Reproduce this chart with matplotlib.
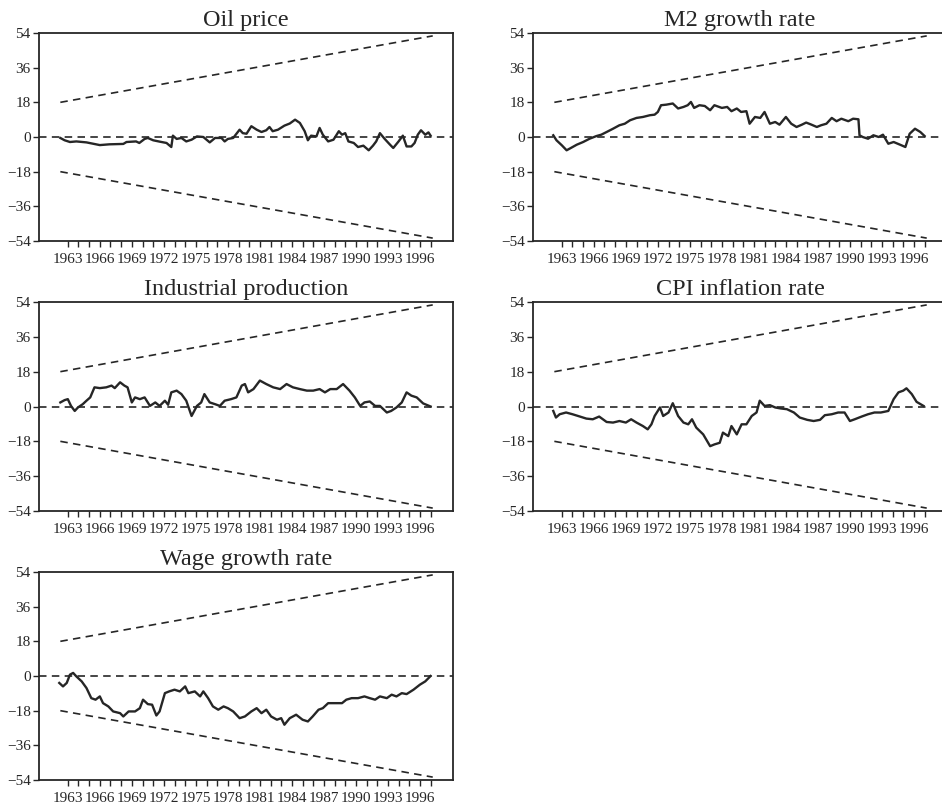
import matplotlib
matplotlib.use("Agg")
import matplotlib.pyplot as plt

plt.rcParams['font.family'] = ['Liberation Serif', 'DejaVu Serif']

titles = ["Oil price", "M2 growth rate", "Industrial production",
          "CPI inflation rate", "Wage growth rate"]

# ---- series (year, value) ----
oil_years = [1962.3, 1962.7, 1963.2, 1963.8, 1964.75, 1966.0, 1966.9, 1968.2, 1968.5,
             1969.4, 1969.7, 1970.2, 1970.5, 1971.0, 1971.6, 1972.25, 1972.7, 1972.85,
             1973.2, 1973.65, 1974.1, 1974.6, 1975.1, 1975.7, 1976.3, 1976.8, 1977.4,
             1977.7, 1978.0, 1978.5, 1979.1, 1979.4, 1979.75, 1980.2, 1980.7, 1981.15,
             1981.6, 1981.9, 1982.2, 1982.7, 1983.3, 1983.8, 1984.3, 1984.75, 1985.2,
             1985.5, 1985.8, 1986.3, 1986.6, 1986.9, 1987.4, 1987.9, 1988.4, 1988.7,
             1989.0, 1989.3, 1989.8, 1990.2, 1990.7, 1991.2, 1991.6, 1991.9, 1992.25,
             1992.7, 1993.2, 1993.5, 1994.0, 1994.4, 1994.75, 1995.2, 1995.5, 1995.8,
             1996.1, 1996.5, 1996.8, 1997.0]
oil_vals = [-0.5, -1.7, -2.6, -2.3, -2.8, -4.2, -3.8, -3.6, -2.6, -2.3, -3.1, -1.0,
            -0.5, -1.7, -2.4, -3.1, -5.2, 0.7, -1.0, -0.5, -2.3, -1.4, 0.3, 0.0,
            -2.8, -0.5, -0.5, -2.3, -1.0, -0.5, 3.8, 2.0, 1.7, 5.6, 3.8, 2.6, 3.5,
            5.2, 3.0, 3.8, 5.9, 7.0, 9.0, 7.3, 3.0, -1.7, 0.7, 0.3, 4.7, 1.2, -2.3,
            -1.4, 3.0, 1.2, 2.0, -2.3, -3.1, -5.2, -4.5, -6.9, -4.5, -2.3, 2.0, -1.0,
            -4.0, -5.7, -2.3, 0.7, -4.9, -4.9, -3.1, 1.2, 3.5, 1.2, 2.4, 0.7]

m2_years = [1962.2, 1962.5, 1963.0, 1963.45, 1963.75, 1964.4, 1965.0, 1965.6, 1966.25,
            1966.7, 1967.2, 1967.8, 1968.4, 1968.9, 1969.4, 1970.0, 1970.6, 1971.25,
            1971.7, 1972.0, 1972.3, 1972.8, 1973.4, 1973.9, 1974.4, 1974.8, 1975.1,
            1975.4, 1975.9, 1976.4, 1976.9, 1977.3, 1978.0, 1978.5, 1978.9, 1979.4,
            1979.8, 1980.3, 1980.6, 1981.1, 1981.6, 1982.0, 1982.5, 1983.0, 1983.4,
            1984.0, 1984.5, 1985.0, 1985.5, 1985.9, 1986.4, 1986.9, 1987.3, 1987.8,
            1988.3, 1988.75, 1989.2, 1989.85, 1990.3, 1990.8, 1990.9, 1991.2, 1991.7,
            1992.2, 1992.7, 1993.1, 1993.6, 1994.1, 1994.7, 1995.2, 1995.6, 1996.1,
            1996.6, 1997.0]
m2_vals = [0.9, -1.7, -4.3, -6.9, -6.0, -4.0, -2.6, -0.9, 0.5, 1.2, 2.6, 4.3, 6.1,
           6.9, 8.7, 9.9, 10.4, 11.3, 11.6, 13.0, 16.5, 16.8, 17.4, 14.8, 15.6, 16.5,
           18.2, 15.1, 16.5, 16.1, 13.9, 16.5, 15.1, 15.6, 13.4, 14.8, 13.0, 13.4,
           6.9, 10.4, 9.9, 13.0, 6.9, 7.8, 6.4, 10.4, 6.9, 5.2, 6.4, 7.5, 6.4, 5.2,
           6.1, 6.9, 9.9, 8.2, 9.5, 8.2, 9.5, 9.2, 0.9, 0.0, -0.9, 0.9, 0.0, 1.2,
           -3.5, -2.6, -4.0, -5.2, 1.7, 4.3, 2.6, 0.5]

ip_years = [1962.3, 1962.7, 1963.0, 1963.3, 1963.65, 1963.95, 1964.4, 1964.75, 1965.1,
            1965.5, 1966.0, 1966.6, 1967.1, 1967.4, 1967.9, 1968.3, 1968.6, 1969.0,
            1969.3, 1969.75, 1970.2, 1970.7, 1971.2, 1971.6, 1972.1, 1972.4, 1972.7,
            1973.2, 1973.65, 1974.1, 1974.6, 1975.1, 1975.5, 1975.8, 1976.3, 1976.8,
            1977.25, 1977.7, 1978.3, 1978.8, 1979.3, 1979.6, 1979.9, 1980.4, 1981.0,
            1981.6, 1982.25, 1982.9, 1983.5, 1984.1, 1984.75, 1985.4, 1986.0, 1986.6,
            1987.1, 1987.6, 1988.2, 1988.8, 1989.4, 1989.9, 1990.4, 1990.8, 1991.3,
            1991.8, 1992.25, 1992.9, 1993.3, 1993.8, 1994.3, 1994.75, 1995.2, 1995.7,
            1996.3, 1997.0]
ip_vals = [2.1, 3.3, 3.8, 0.3, -2.3, -0.5, 1.2, 3.0, 4.7, 9.9, 9.5, 9.9, 10.8, 9.5,
           12.5, 10.8, 9.9, 2.1, 4.7, 3.8, 4.7, 0.3, 2.1, 0.3, 3.0, 0.9, 7.3, 8.2,
           6.4, 3.0, -4.9, 0.3, 2.1, 6.4, 2.1, 1.2, 0.3, 3.0, 3.8, 4.7, 10.8, 11.6,
           7.3, 9.0, 13.4, 11.6, 9.9, 9.0, 11.6, 9.9, 9.0, 8.2, 8.2, 9.0, 7.3, 9.0,
           9.0, 11.6, 8.2, 4.7, 0.3, 2.1, 2.6, 0.3, 0.3, -3.1, -2.3, -0.5, 2.1, 7.3,
           5.6, 4.7, 1.6, 0.0]

cpi_years = [1962.2, 1962.45, 1962.8, 1963.4, 1964.0, 1964.7, 1965.3, 1965.9, 1966.5,
             1967.2, 1967.8, 1968.4, 1969.0, 1969.5, 1970.0, 1970.6, 1971.05, 1971.4,
             1971.7, 1972.2, 1972.5, 1973.0, 1973.4, 1973.9, 1974.4, 1974.85, 1975.2,
             1975.6, 1976.25, 1976.9, 1977.3, 1977.8, 1978.1, 1978.6, 1978.9, 1979.4,
             1979.85, 1980.3, 1980.8, 1981.25, 1981.55, 1982.0, 1982.5, 1983.0, 1983.5,
             1984.1, 1984.75, 1985.3, 1986.0, 1986.6, 1987.2, 1987.65, 1988.3, 1988.9,
             1989.5, 1990.0, 1990.45, 1991.1, 1991.7, 1992.3, 1992.9, 1993.6, 1994.1,
             1994.55, 1995.0, 1995.3, 1995.8, 1996.25, 1996.9]
cpi_vals = [-2.3, -5.7, -4.0, -3.1, -4.0, -5.2, -6.25, -6.6, -5.2, -8.0, -8.3, -7.5,
            -8.3, -6.6, -8.3, -10.1, -11.8, -9.2, -4.9, -0.5, -4.9, -3.1, 1.7, -4.9,
            -8.3, -9.2, -6.6, -10.9, -14.4, -20.5, -19.6, -18.75, -13.5, -15.3, -10.1,
            -14.4, -9.2, -9.2, -4.9, -3.1, 3.0, 0.3, 0.7, -0.5, -1.0, -1.4, -3.1,
            -5.7, -6.9, -7.5, -6.9, -4.5, -4.0, -3.1, -3.1, -7.5, -6.6, -5.2, -4.0,
            -3.1, -3.1, -2.3, 3.8, 7.3, 8.2, 9.4, 6.4, 2.4, 0.3]

wage_years = [1962.2, 1962.55, 1962.9, 1963.2, 1963.5, 1963.8, 1964.3, 1964.75, 1965.2,
              1965.6, 1966.0, 1966.3, 1966.8, 1967.25, 1967.9, 1968.2, 1968.7, 1969.3,
              1969.75, 1970.05, 1970.5, 1970.9, 1971.3, 1971.6, 1972.1, 1972.5, 1973.0,
              1973.5, 1974.0, 1974.3, 1974.9, 1975.4, 1975.7, 1976.15, 1976.6, 1977.1,
              1977.6, 1978.0, 1978.5, 1979.1, 1979.6, 1980.2, 1980.7, 1981.15, 1981.6,
              1982.05, 1982.6, 1983.0, 1983.3, 1983.8, 1984.4, 1985.0, 1985.5, 1985.95,
              1986.5, 1986.9, 1987.4, 1988.0, 1988.7, 1989.1, 1989.6, 1990.2, 1990.8,
              1991.3, 1991.8, 1992.25, 1992.9, 1993.35, 1993.8, 1994.3, 1994.75,
              1995.4, 1996.0, 1996.5, 1997.0]
wage_vals = [-3.6, -5.4, -3.6, 0.7, 1.6, -0.2, -2.8, -6.25, -11.5, -12.3, -10.6,
             -14.1, -15.8, -18.4, -19.3, -21.0, -18.4, -18.4, -16.7, -12.3, -14.6,
             -14.9, -20.5, -18.4, -8.9, -8.0, -7.1, -8.0, -5.4, -8.9, -8.0, -10.6,
             -8.0, -11.5, -15.8, -17.5, -15.8, -16.7, -18.4, -21.9, -21.0, -18.4,
             -16.7, -19.3, -17.5, -21.0, -22.7, -21.9, -25.3, -21.9, -20.1, -22.7,
             -23.6, -21.0, -17.5, -16.7, -14.1, -14.1, -14.1, -12.3, -11.5, -11.5,
             -10.6, -11.5, -12.3, -10.6, -11.5, -9.7, -10.6, -8.9, -9.4, -7.1, -4.5,
             -2.8, 0.0]

series_years = [oil_years, m2_years, ip_years, cpi_years, wage_years]
series_vals = [oil_vals, m2_vals, ip_vals, cpi_vals, wage_vals]

# 5% significance bounds (start / end)
bound_years = [1962.3, 1997.2]
bound_upper = [18, 52.5]
bound_lower = [-18, -52.5]

yticks = [-54, -36, -18, 0, 18, 36, 54]
xtick_years = list(range(1963, 1998, 3))
minor_years = list(range(1963, 1998))

W, H = 942, 806
fig = plt.figure(figsize=(W / 100, H / 100), dpi=100)

# panel boxes in pixels: (left, top, right, bottom)
boxes = [(39, 33, 453, 241), (533, 33, 947, 241),
         (39, 302, 453, 511), (533, 302, 947, 511),
         (39, 572, 453, 780)]

ink = '#262626'
for i, (l, t, r, b) in enumerate(boxes):
    ax = fig.add_axes([l / W, 1 - b / H, (r - l) / W, (b - t) / H])
    ax.plot(series_years[i], series_vals[i], color=ink, lw=1.7, solid_joinstyle='round')
    ax.plot(bound_years, bound_upper, color=ink, lw=1.2, dashes=(4.5, 3.2))
    ax.plot(bound_years, bound_lower, color=ink, lw=1.2, dashes=(4.5, 3.2))
    ax.axhline(0, color=ink, lw=1.2, dashes=(4.5, 3.2))
    ax.set_xlim(1960.3, 1999.1)
    ax.set_ylim(-54, 54)
    ax.set_yticks(yticks)
    ax.set_yticklabels([str(v).replace('-', '\u2212') for v in yticks])
    ax.set_xticks(xtick_years)
    ax.set_xticklabels([str(y) for y in xtick_years])
    ax.set_xticks(minor_years, minor=True)
    ax.tick_params(axis='both', which='major', direction='out', length=4.5, width=1.0,
                   colors=ink, labelsize=11, pad=3)
    ax.tick_params(axis='x', which='minor', direction='out', length=4.5, width=1.0,
                   colors=ink)
    ax.tick_params(axis='x', which='major', pad=4)
    ax.tick_params(axis='y', which='major', pad=1.5)
    for s in ax.spines.values():
        s.set_color(ink)
        s.set_linewidth(1.3)
    ax.set_title(titles[i], fontsize=17.5, color=ink, pad=5)

fig.savefig("out.png", dpi=100)
